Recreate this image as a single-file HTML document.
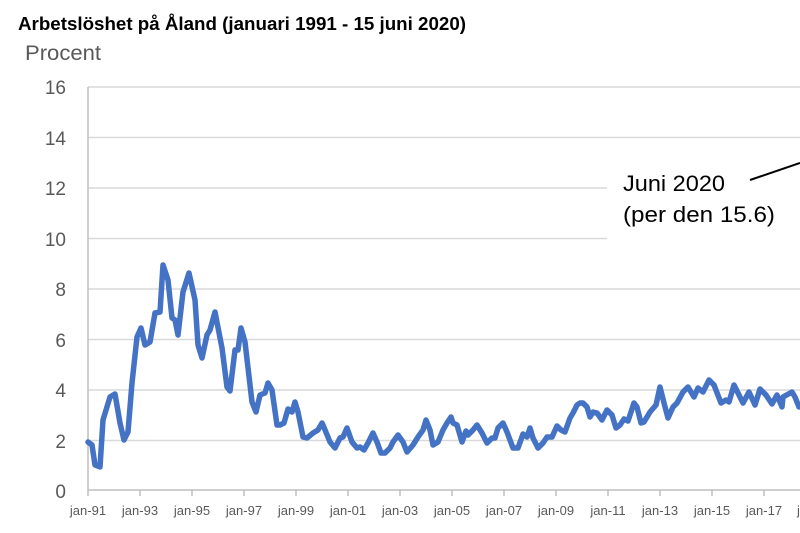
<!DOCTYPE html>
<html><head><meta charset="utf-8"><style>
body{margin:0;background:#fff}
svg{display:block}
text{font-family:"Liberation Sans",sans-serif}
</style></head><body>
<svg width="800" height="533" viewBox="0 0 800 533" xmlns="http://www.w3.org/2000/svg">
<rect width="800" height="533" fill="#fff"/>
<text x="18" y="30" font-size="18" font-weight="bold" fill="#000" textLength="448" lengthAdjust="spacingAndGlyphs">Arbetslöshet på Åland (januari 1991 - 15 juni 2020)</text>
<text x="25" y="60" font-size="21" fill="#595959" textLength="76" lengthAdjust="spacingAndGlyphs">Procent</text>
<g stroke="#d9d9d9" stroke-width="1.5">
<line x1="88" y1="87" x2="800" y2="87"/>
<line x1="88" y1="137.5" x2="800" y2="137.5"/>
<line x1="88" y1="188" x2="800" y2="188"/>
<line x1="88" y1="238.5" x2="800" y2="238.5"/>
<line x1="88" y1="289" x2="800" y2="289"/>
<line x1="88" y1="339.5" x2="800" y2="339.5"/>
<line x1="88" y1="390" x2="800" y2="390"/>
<line x1="88" y1="440.5" x2="800" y2="440.5"/>
</g>
<rect x="607" y="150" width="193" height="100" fill="#fff"/>
<g stroke="#bfbfbf" stroke-width="1.5">
<line x1="88" y1="87" x2="88" y2="496"/>
<line x1="88" y1="490" x2="800" y2="490"/>
<line x1="140" y1="490" x2="140" y2="496"/><line x1="192" y1="490" x2="192" y2="496"/><line x1="244" y1="490" x2="244" y2="496"/><line x1="296" y1="490" x2="296" y2="496"/><line x1="348" y1="490" x2="348" y2="496"/><line x1="400" y1="490" x2="400" y2="496"/><line x1="452" y1="490" x2="452" y2="496"/><line x1="504" y1="490" x2="504" y2="496"/><line x1="556" y1="490" x2="556" y2="496"/><line x1="608" y1="490" x2="608" y2="496"/><line x1="660" y1="490" x2="660" y2="496"/><line x1="712" y1="490" x2="712" y2="496"/><line x1="764" y1="490" x2="764" y2="496"/>
</g>
<g font-size="19" fill="#595959" text-anchor="end">
<text x="66" y="94">16</text><text x="66" y="145">14</text><text x="66" y="195">12</text><text x="66" y="246">10</text><text x="66" y="296">8</text><text x="66" y="347">6</text><text x="66" y="397">4</text><text x="66" y="448">2</text><text x="66" y="498">0</text>
</g>
<g font-size="13" fill="#595959" text-anchor="middle">
<text x="88" y="515">jan-91</text><text x="140" y="515">jan-93</text><text x="192" y="515">jan-95</text><text x="244" y="515">jan-97</text><text x="296" y="515">jan-99</text><text x="348" y="515">jan-01</text><text x="400" y="515">jan-03</text><text x="452" y="515">jan-05</text><text x="504" y="515">jan-07</text><text x="556" y="515">jan-09</text><text x="608" y="515">jan-11</text><text x="660" y="515">jan-13</text><text x="712" y="515">jan-15</text><text x="764" y="515">jan-17</text><text x="797" y="515" text-anchor="start">j</text>
</g>
<polyline fill="none" stroke="#4472c4" stroke-width="5.5" stroke-linejoin="round" stroke-linecap="round" points="88,442 92,445 95,465 100,467 103,420 110,397 115,394 120,423 124,440 128,432 132,383 137,337 141,328 145,345 150,342 155,313 160,312 163,265 168,280 172,318 175,320 178,335 183,292 189,273 195,300 198,345 202,358 207,335 210,330 215,312 222,348 227,387 230,391 235,350 238,350 241,328 245,342 252,402 256,412 260,395 265,393 268,383 272,390 277,425 280,425 284,423 288,409 292,412 295,402 298,412 303,437 307,438 313,433 318,430 322,423 323,425 330,442 335,448 340,438 343,437 347,428 352,442 357,448 360,447 364,450 368,443 373,433 377,442 381,453 385,453 390,448 393,442 398,435 403,442 407,452 413,445 418,437 423,430 426,420 430,430 433,445 438,442 443,430 447,423 451,417 453,423 457,425 462,442 466,431 468,435 473,430 477,425 482,433 487,443 492,438 495,438 498,428 503,423 507,432 513,448 518,448 523,434 527,437 530,428 533,438 538,448 543,443 547,437 552,437 557,426 561,430 565,432 570,418 573,413 577,405 580,403 583,403 587,407 590,417 593,412 597,413 602,420 607,410 612,415 616,428 620,425 624,419 628,421 634,403 637,407 641,423 644,422 650,412 656,405 660,387 664,403 668,418 673,407 677,403 683,392 688,387 694,397 698,388 703,392 709,380 714,385 721,403 726,400 729,402 734,385 738,393 743,403 749,392 755,405 760,389 766,395 772,404 777,395 782,407 783,397 792,392 795,397 799,407"/>
<text x="623" y="191" font-size="22" fill="#000" textLength="102" lengthAdjust="spacingAndGlyphs">Juni 2020</text>
<text x="623" y="222" font-size="22" fill="#000" textLength="152" lengthAdjust="spacingAndGlyphs">(per den 15.6)</text>
<line x1="750" y1="180" x2="800" y2="163" stroke="#000" stroke-width="2"/>
</svg>
</body></html>
